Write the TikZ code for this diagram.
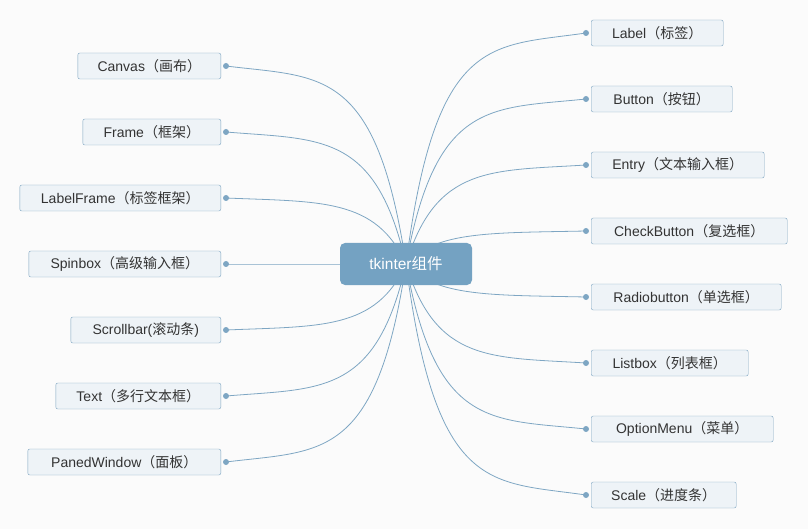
\documentclass[tikz,border=0pt]{standalone}
\usepackage{fontspec}
\setmainfont{Liberation Sans}
\newfontfamily\cjk{Noto Sans CJK SC}
\usepackage{tikz}
\usetikzlibrary{calc}

\definecolor{paper}{HTML}{FBFBFB}
\definecolor{linkblue}{HTML}{7EA6C3}
\definecolor{rootblue}{HTML}{74A2C2}
\definecolor{leaffill}{HTML}{EEF3F7}
\definecolor{leafline}{HTML}{7DA4C1}
\definecolor{inkgray}{HTML}{333333}

\newcommand{\zh}[1]{{\cjk #1}}

\tikzset{
  leaf/.style={draw=leafline, fill=leaffill, rounded corners=2pt, minimum height=26pt,
    inner sep=0pt, text=inkgray, font=\fontsize{14}{16}\selectfont},
  root/.style={fill=rootblue, rounded corners=5pt, minimum width=132pt, minimum height=42pt,
    text=white, font=\fontsize{15.5}{18}\selectfont},
  link/.style={linkblue, line width=0.8pt}
}

\begin{document}
\begin{tikzpicture}[x=1pt, y=-1pt]
\fill[paper] (0, 0) rectangle (808, 529);
\useasboundingbox (0, 0) rectangle (808, 529);
\coordinate (hub) at (406, 264);

% left side
\foreach \y/\w/\name/\txt in {66/143/canvas/{Canvas\zh{（画布）}},
    132/138/frame/{Frame\zh{（框架）}},
    198/201/lframe/{LabelFrame\zh{（标签框架）}},
    264/192/spin/{Spinbox\zh{（高级输入框）}},
    330/150/scroll/{Scrollbar(\zh{滚动条})},
    396/165/text/{Text\zh{（多行文本框）}},
    462/193/paned/{PanedWindow\zh{（面板）}}} {
  \node[leaf, minimum width=\w pt, anchor=east] (\name) at (221, \y) {\txt};
  \coordinate (\name-dot) at ([xshift=5pt]\name.east);
  \draw[link] (hub) .. controls +(-30, \y-264) and +(95, 0.06*264-0.06*\y) .. (\name-dot);
  \fill[linkblue] (\name-dot) circle (3);
}

% right side
\foreach \y/\w/\name/\txt in {33/132/label/{Label\zh{（标签）}},
    99/141/button/{Button\zh{（按钮）}},
    165/173/entry/{Entry\zh{（文本输入框）}},
    231/196/check/{CheckButton\zh{（复选框）}},
    297/190/radio/{Radiobutton\zh{（单选框）}},
    363/157/list/{Listbox\zh{（列表框）}},
    429/182/option/{OptionMenu\zh{（菜单）}},
    495/145/scale/{Scale\zh{（进度条）}}} {
  \node[leaf, minimum width=\w pt, anchor=west] (\name) at (591, \y) {\txt};
  \coordinate (\name-dot) at ([xshift=-5pt]\name.west);
  \draw[link] (hub) .. controls +(30, \y-264) and +(-95, 0.06*264-0.06*\y) .. (\name-dot);
  \fill[linkblue] (\name-dot) circle (3);
}

\node[root] (root) at (hub) {tkinter\zh{组件}};
\end{tikzpicture}
\end{document}
